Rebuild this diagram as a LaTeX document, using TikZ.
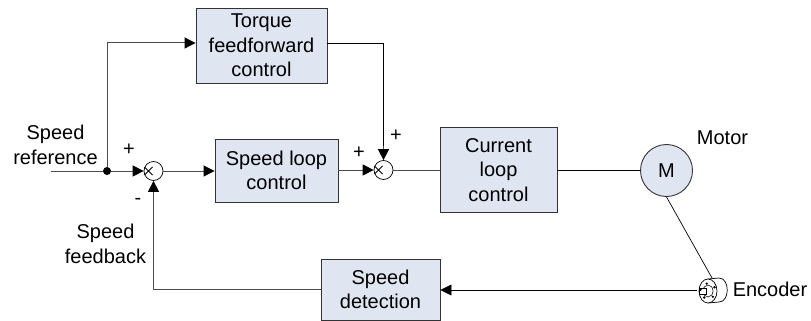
\documentclass[tikz,border=0pt]{standalone}
\usepackage{fontspec}
\setmainfont{Liberation Sans}
\usetikzlibrary{arrows.meta, positioning}
\definecolor{boxfill}{HTML}{DFE6F1}

\begin{document}
\begin{tikzpicture}[
    x=1pt, y=-1pt,
    >={Triangle[length=11pt,width=11pt,color=black]},
    every node/.style={font=\fontsize{20pt}{24.4pt}\selectfont},
    block/.style={draw=black!80, fill=boxfill, line width=0.9pt, align=center,
                  inner sep=0pt, minimum width=#1},
    junction/.style={draw, circle, line width=0.7pt, fill=white, minimum size=19pt, inner sep=0pt},
    lbl/.style={align=center, inner sep=0pt},
    flow/.style={->, line width=1pt, black!70},
    wire/.style={line width=1pt, black!70},
    thinwire/.style={line width=0.7pt, black},
]
\useasboundingbox (0,0) rectangle (811,321);
\node[block=131pt, minimum height=75pt] (torque) at (261.5,45.5) {Torque\\ feedforward\\ control};
\node[block=123pt, minimum height=63pt] (speedloop) at (276.5,170.5) {Speed loop\\ control};
\node[block=117pt, minimum height=85pt] (current) at (498.5,170) {Current\\ loop\\ control};
\node[block=119pt, minimum height=61pt] (detect) at (380.5,289.5) {Speed\\ detection};
\node[junction] (sum1) at (153.5,171) {};
\node[junction] (sum2) at (383.5,170) {};
\node[block=52pt, circle, minimum size=52pt] (motor) at (666.5,170.5) {M};
\coordinate (start) at (51,171);
\coordinate (enctop) at (712,278);
\coordinate (encshaft) at (697,290);
\node[circle, fill=black, inner sep=0pt, minimum size=8pt] (branch) at (107,171) {};
\node[lbl] (ref) at (55.5,145) {Speed\\ reference};
\node[lbl] (plus1) at (129,150) {+};
\node[lbl] (plus2) at (359,153) {+};
\node[lbl] (plus3) at (396,136) {+};
\node[lbl] (minus) at (138,201) {-};
\node[lbl] (fb) at (105.5,244) {Speed\\ feedback};
\node[lbl] (motorlbl) at (722.5,138) {Motor};
\node[lbl] (enclbl) at (770,289) {Encoder};
% forward path
\draw[wire] (start) -- (branch);
\draw[flow] (branch) -- (sum1);
\draw[flow] (branch) |- ([yshift=2.5pt]torque.west);
\draw[thinwire] ([yshift=2.5pt]torque.east) -| ([yshift=14pt]sum2.north);
\draw[flow] ([yshift=14pt]sum2.north) -- (sum2.north);
\draw[flow] (sum1) -- (speedloop.west |- sum1);
\draw[flow] (speedloop.east |- sum2) -- (sum2);
\draw[wire] (sum2) -- (current.west |- sum2);
\draw[thinwire] (current.east |- motor) -- (motor);
\draw[thinwire] (motor.south) -- (enctop);
% feedback path
\draw[thinwire, ->] (encshaft) -- (detect.east |- encshaft);
\draw[flow] (detect.west) -| (sum1.south);
% the cross inside the junctions
\foreach \s in {sum1, sum2}
  \draw[line width=0.9pt, black] (\s.center) ++(-9pt,-4pt) -- ++(8pt,8pt) ++(-8pt,0) -- ++(8pt,-8pt);
% encoder
\draw[thinwire, fill=white] (708,279) -- (719,278) .. controls (730,278) and (730,302) .. (719,302) -- (708,303);
\draw[thinwire, fill=white] (708,291) ellipse (9pt and 12pt);
\draw[line width=0.6pt, fill=white] (708,291) ellipse (5pt and 6pt);
\draw[line width=0.6pt, fill=white] (699,288) rectangle (706,294);
\foreach \ang in {30,100,170,240,310}
  \fill (708,291) ++(\ang:7.5pt) circle (1.3pt);
\end{tikzpicture}
\end{document}
